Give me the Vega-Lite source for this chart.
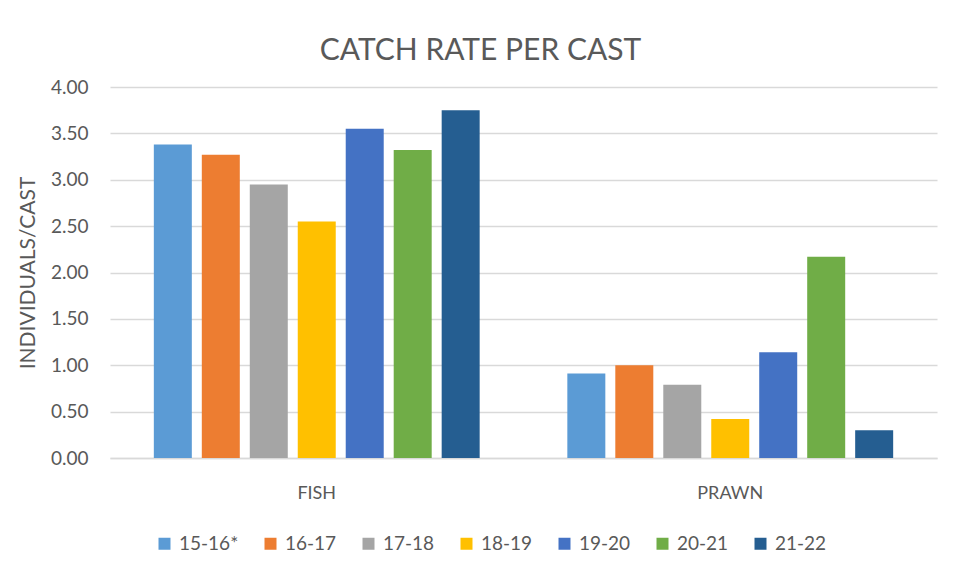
{
  "$schema": "https://vega.github.io/schema/vega-lite/v6.json",
  "width": 827,
  "height": 371,
  "autosize": {"type": "none"},
  "padding": {"left": 110, "top": 87, "right": 17, "bottom": 119},
  "background": "white",
  "title": {
    "text": "CATCH RATE PER CAST",
    "fontSize": 30,
    "font": "Lato",
    "fontWeight": "normal",
    "color": "#595959",
    "anchor": "middle",
    "dx": -43,
    "offset": 12
  },
  "data": {
    "values": [
      {"group": "FISH", "season": "15-16*", "rate": 3.38},
      {"group": "FISH", "season": "16-17", "rate": 3.27},
      {"group": "FISH", "season": "17-18", "rate": 2.95},
      {"group": "FISH", "season": "18-19", "rate": 2.55},
      {"group": "FISH", "season": "19-20", "rate": 3.55},
      {"group": "FISH", "season": "20-21", "rate": 3.32},
      {"group": "FISH", "season": "21-22", "rate": 3.75},
      {"group": "PRAWN", "season": "15-16*", "rate": 0.91},
      {"group": "PRAWN", "season": "16-17", "rate": 1.0},
      {"group": "PRAWN", "season": "17-18", "rate": 0.79},
      {"group": "PRAWN", "season": "18-19", "rate": 0.42},
      {"group": "PRAWN", "season": "19-20", "rate": 1.14},
      {"group": "PRAWN", "season": "20-21", "rate": 2.17},
      {"group": "PRAWN", "season": "21-22", "rate": 0.30}
    ]
  },
  "mark": {"type": "bar"},
  "encoding": {
    "x": {
      "field": "group",
      "type": "nominal",
      "scale": {"paddingInner": 0.212, "paddingOuter": 0.106},
      "axis": {
        "title": null,
        "labelAngle": 0,
        "labelFont": "Lato",
        "labelFontSize": 18,
        "labelColor": "#595959",
        "labelPadding": 26,
        "ticks": false,
        "domainColor": "#D9D9D9",
        "domainWidth": 1.5
      }
    },
    "xOffset": {
      "field": "season",
      "type": "nominal",
      "scale": {"paddingInner": 0.208, "paddingOuter": 0}
    },
    "y": {
      "field": "rate",
      "type": "quantitative",
      "scale": {"domain": [0, 4], "nice": false},
      "axis": {
        "title": "INDIVIDUALS/CAST",
        "titleFont": "Lato",
        "titleFontSize": 21,
        "titleFontWeight": "normal",
        "titleColor": "#595959",
        "titlePadding": 12,
        "values": [0, 0.5, 1, 1.5, 2, 2.5, 3, 3.5, 4],
        "format": ".2f",
        "labelFont": "Lato",
        "labelFontSize": 19,
        "labelColor": "#595959",
        "labelPadding": 22,
        "ticks": false,
        "domain": false,
        "gridColor": "#D9D9D9",
        "gridWidth": 1.3
      }
    },
    "color": {
      "field": "season",
      "type": "nominal",
      "scale": {
        "domain": ["15-16*", "16-17", "17-18", "18-19", "19-20", "20-21", "21-22"],
        "range": ["#5B9BD5", "#ED7D31", "#A5A5A5", "#FFC000", "#4472C4", "#70AD47", "#255E91"]
      },
      "legend": {
        "title": null,
        "orient": "none",
        "legendX": 45,
        "legendY": 447,
        "padding": 0,
        "direction": "horizontal",
        "symbolType": "square",
        "symbolSize": 144,
        "symbolStrokeWidth": 0,
        "labelFont": "Lato",
        "labelFontSize": 19,
        "labelColor": "#595959",
        "columnPadding": 22,
        "labelOffset": 5
      }
    }
  },
  "config": {"view": {"stroke": null}}
}
